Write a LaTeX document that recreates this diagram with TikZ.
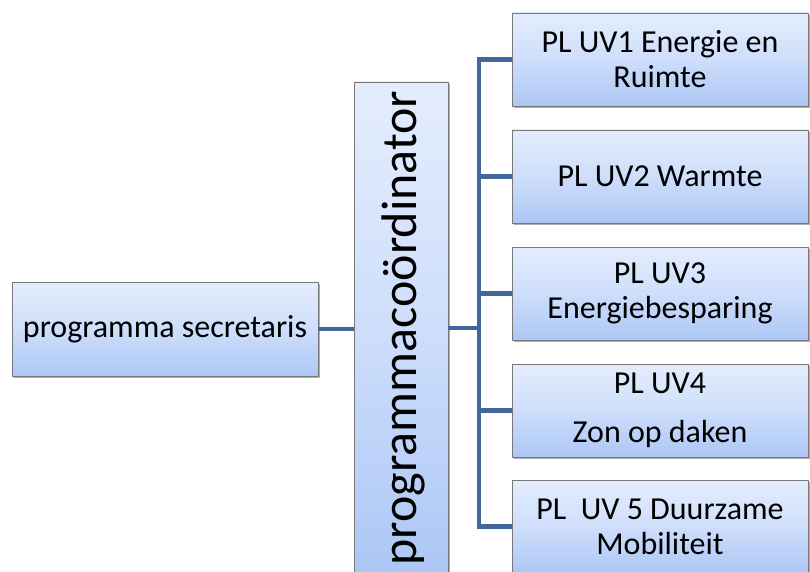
\documentclass[tikz,border=0pt]{standalone}
\usepackage{fontspec}
\setmainfont{Carlito}
\usetikzlibrary{shadows}
\definecolor{linkblue}{RGB}{65,104,155}
\definecolor{boxtop}{RGB}{228,237,253}
\definecolor{boxmid}{RGB}{206,222,251}
\definecolor{boxbot}{RGB}{172,199,245}
\definecolor{boxedge}{RGB}{120,120,120}
\tikzset{
  orgbox/.style={draw=boxedge, line width=0.8pt, rectangle,
    top color=boxtop, bottom color=boxbot, middle color=boxmid,
    drop shadow={shadow xshift=2pt, shadow yshift=-2pt, opacity=0.45, fill=black!70},
    inner sep=0pt, align=center,
    font=\fontsize{32}{35}\selectfont},
  link/.style={draw=linkblue, line width=4.8pt, line join=miter}
}
\begin{document}
\begin{tikzpicture}[x=1pt, y=-1pt]
\useasboundingbox (0,0) rectangle (810,572);
% left box
\node[orgbox, minimum width=306pt, minimum height=94pt] (sec) at (165,329) {programma secretaris};
% centre box
\node[orgbox, minimum width=94pt, minimum height=492pt] (pc) at (401,328) {};
\node[rotate=90, font=\fontsize{50}{54}\selectfont, inner sep=0pt] (pctext) at (403,328) {programmaco\"ordinator};
% right boxes
\node[orgbox, minimum width=296pt, minimum height=93pt] (r1) at (660,59.5) {PL UV1 Energie en\\Ruimte};
\node[orgbox, minimum width=296pt, minimum height=93pt] (r2) at (660,176.5) {PL UV2 Warmte};
\node[orgbox, minimum width=296pt, minimum height=93pt] (r3) at (660,293.5) {PL UV3\\Energiebesparing};
\node[orgbox, minimum width=296pt, minimum height=93pt] (r4) at (660,410.5) {PL UV4\\[14pt]Zon op daken};
\node[orgbox, minimum width=296pt, minimum height=93pt] (r5) at (660,526.5) {PL\ \ UV 5 Duurzame\\Mobiliteit};
% connectors
\coordinate (trunk) at (479,328);
\draw[link] (sec.east) -- (pc.west |- sec.east);
\draw[link] (pc.east |- trunk) -- (trunk);
\draw[link] (r1.west) -| (trunk);
\draw[link] (r2.west) -| (trunk);
\draw[link] (r3.west) -| (trunk);
\draw[link] (r4.west) -| (trunk);
\draw[link] (r5.west) -| (trunk);
\end{tikzpicture}
\end{document}
